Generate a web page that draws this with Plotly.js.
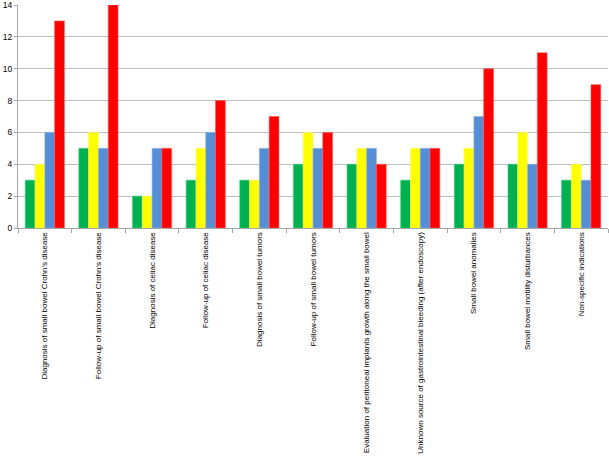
<!DOCTYPE html>
<html>
<head>
<meta charset="utf-8">
<script src="https://cdn.plot.ly/plotly-3.0.1.min.js"></script>
<style>html,body{margin:0;padding:0;background:#fff;}#chart{width:609px;height:457px;}</style>
</head>
<body>
<div id="chart"></div>
<script>
const categories = [
  "Diagnosis of small bowel Crohn's disease",
  "Follow-up of small bowel Crohn's disease",
  "Diagnosis of celiac disease",
  "Follow-up of celiac disease",
  "Diagnosis of small bowel tumors",
  "Follow-up of small bowel tumors",
  "Evaluation of peritoneal implants growth along the small bowel",
  "Unknown source of gastrointestinal bleeding (after endoscopy)",
  "Small bowel anomalies",
  "Small bowel motility disturbances",
  "Non-specific indications"
];
const seriesGreen  = [3, 5, 2, 3, 3, 4, 4, 3, 4, 4, 3];
const seriesYellow = [4, 6, 2, 5, 3, 6, 5, 5, 5, 6, 4];
const seriesBlue   = [6, 5, 5, 6, 5, 5, 5, 5, 7, 4, 3];
const seriesRed    = [13, 14, 5, 8, 7, 6, 4, 5, 10, 11, 9];
const yTicks = [0, 2, 4, 6, 8, 10, 12, 14];

const colors = ["#00B050", "#FFFF00", "#558ED5", "#FF0000"];
const lines = ["#2ECF7A", "#FFFF66", "#8CB2E2", "#FF5555"];
const all = [seriesGreen, seriesYellow, seriesBlue, seriesRed];
const traces = all.map((s, i) => ({
  type: "bar",
  x: categories,
  y: s,
  marker: {color: colors[i], line: {color: lines[i], width: 0.6}},
  hoverinfo: "y"
}));

const layout = {
  width: 609, height: 457,
  margin: {l: 18, r: 1, t: 5, b: 229},
  paper_bgcolor: "#fff", plot_bgcolor: "#fff",
  showlegend: false,
  barmode: "group",
  bargap: 0.27,
  bargroupgap: 0,
  font: {family: "Liberation Sans, Arial, sans-serif", color: "#000"},
  xaxis: {
    type: "category",
    tickangle: -90,
    tickfont: {size: 8, family: "Liberation Sans, Arial, sans-serif"},
    ticks: "outside", ticklen: 4, tickcolor: "#A6A6A6",
    tickson: "boundaries",
    showline: true, linecolor: "#A6A6A6", linewidth: 1,
    showgrid: false,
    automargin: false
  },
  yaxis: {
    range: [0, 14],
    tickvals: yTicks,
    ticktext: yTicks.map(String),
    tickfont: {size: 8.5},
    ticklabeloverflow: "allow",
    ticks: "outside", ticklen: 3, tickcolor: "#A6A6A6",
    showline: true, linecolor: "#A6A6A6", linewidth: 1,
    showgrid: true, gridcolor: "#BFBFBF", gridwidth: 1,
    zeroline: false,
    automargin: false
  }
};
Plotly.newPlot("chart", traces, layout, {displayModeBar: false, staticPlot: true});
</script>
</body>
</html>
